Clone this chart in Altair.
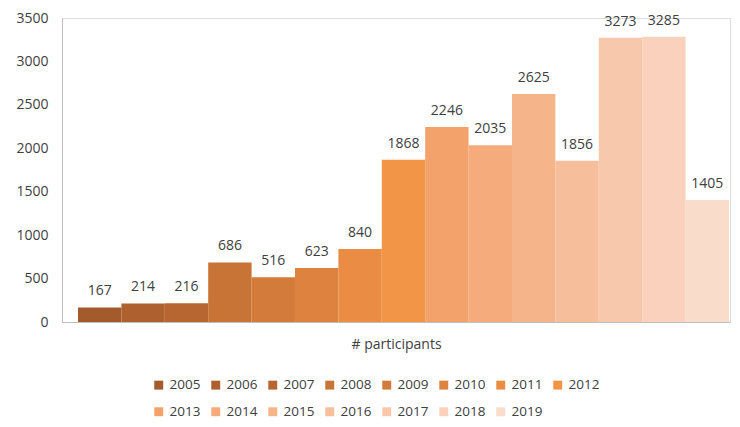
import altair as alt
import pandas as pd

years = [str(y) for y in range(2005, 2020)]
values = [167, 214, 216, 686, 516, 623, 840, 1868, 2246, 2035, 2625, 1856, 3273, 3285, 1405]
colors = ["#A35B2C", "#AE612F", "#B86631", "#C97437", "#D27B3B", "#DE833F", "#EA8C43", "#F39546",
          "#F4A26B", "#F5AB7B", "#F6B48A", "#F7BE9C", "#F8C8AD", "#F9D1BC", "#FADCCB"]
category = "# participants"

df = pd.DataFrame({"year": years, "value": values, "cat": category})

FONT = "Open Sans"

x = alt.X("year:N", sort=years,
          scale=alt.Scale(paddingInner=0, paddingOuter=0.196, align=0.94),
          axis=alt.Axis(title=category, labels=False, ticks=False, domainColor="#BFBFBF",
                        titleFont=FONT, titleFontSize=14, titleFontWeight="normal",
                        titleColor="#404040", titlePadding=15))
y = alt.Y("value:Q",
          scale=alt.Scale(domain=[0, 3500]),
          axis=alt.Axis(title=None, values=list(range(0, 3501, 500)), format="d", ticks=False,
                        grid=False, domainColor="#BFBFBF", labelFont=FONT, labelFontSize=14,
                        labelColor="#404040", labelPadding=14))

bars = alt.Chart(df).mark_bar(size=43.4).encode(
    x=x, y=y,
    color=alt.Color("year:N", sort=years,
                    scale=alt.Scale(domain=years, range=colors),
                    legend=alt.Legend(title=None, orient="none", legendX=90, legendY=360,
                                      direction="horizontal", columns=8, symbolType="square",
                                      symbolSize=80, labelFont=FONT, labelFontSize=13.5,
                                      labelColor="#404040", columnPadding=8, rowPadding=12,
                                      labelOffset=4, symbolStrokeWidth=0))
)

labels = alt.Chart(df).mark_text(baseline="middle", dy=-16, font=FONT, fontSize=14,
                                 color="#404040").encode(
    x=alt.X("year:N", sort=years), y="value:Q", text="value:Q"
)

chart = (bars + labels).properties(
    width=668, height=304,
    autosize=alt.AutoSizeParams(type="none"),
    padding={"left": 54, "top": 10, "right": 2, "bottom": 97},
).configure_view(stroke=None).configure(background="white")

chart.save("out.html", embed_options={"renderer": "svg", "actions": False})
